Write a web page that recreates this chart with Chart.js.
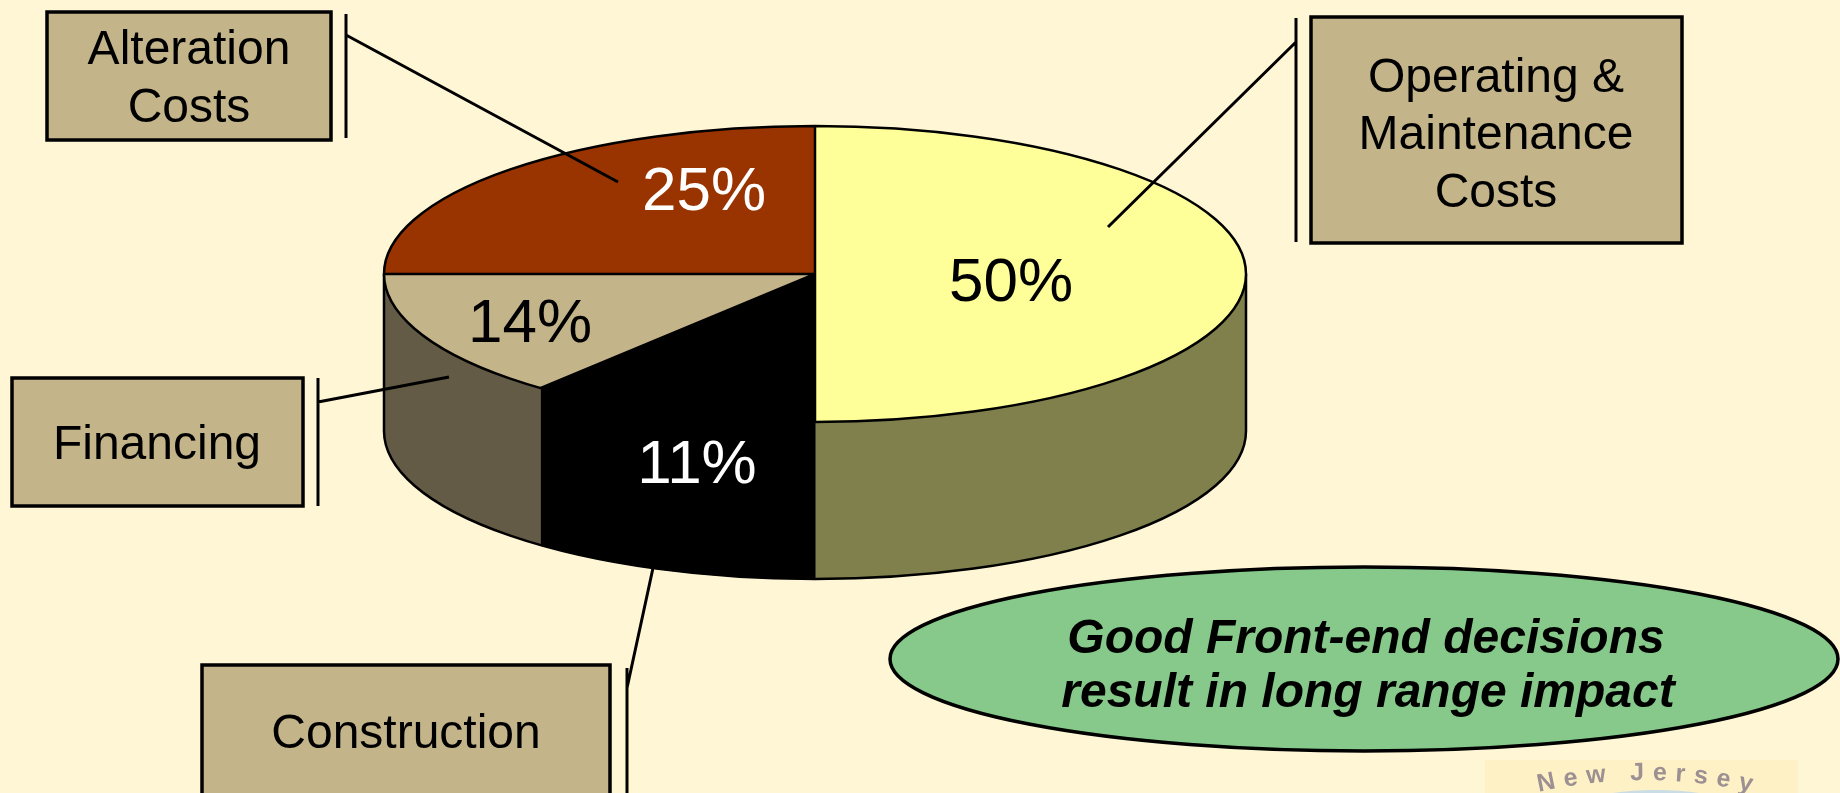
<!DOCTYPE html>
<html>
<head>
<meta charset="utf-8">
<script src="https://cdn.jsdelivr.net/npm/chart.js@4.4.1/dist/chart.umd.min.js"></script>
<style>
  html, body { margin: 0; padding: 0; background: #FFF6D5; overflow: hidden; }
  canvas { display: block; }
</style>
</head>
<body>
<canvas id="costChart" width="1840" height="793" style="width:1840px;height:793px"></canvas>
<script>
// data, clockwise from 12 o'clock
const categories = ['Operating & Maintenance Costs', 'Construction', 'Financing', 'Alteration Costs'];
const shares = [50, 11, 14, 25];
const boxLines = [['Operating &', 'Maintenance', 'Costs'], ['Construction'], ['Financing'], ['Alteration', 'Costs']];
const topColors = ['#FFFF99', '#000000', '#C4B48A', '#993300'];
const sideColors = ['#80804D', '#000000', '#635B46', '#7A2900'];
const labelColors = ['#000000', '#FFFFFF', '#000000', '#FFFFFF'];
const message = ['Good Front-end decisions', 'result in long range impact'];

// layout
const FONT = '"Liberation Sans", Arial, sans-serif';
const TILT = 148 / 431;
const DEPTH = 157;
const labelSpots = [[1011, 279], [697, 461], [530, 320], [704, 188]];
const boxes = [
  { x: 1311, y: 17, w: 371, h: 226, cx: 1496, cy: 132, barX: 1296, barY0: 18, barY1: 242, leader: [1296, 42, 1108, 227] },
  { x: 202, y: 665, w: 408, h: 160, cx: 406, cy: 731, barX: 627, barY0: 668, barY1: 793, leader: [627, 688, 653, 568] },
  { x: 12, y: 378, w: 291, h: 128, cx: 157, cy: 442, barX: 318, barY0: 378, barY1: 506, leader: [318, 402, 449, 377] },
  { x: 47, y: 12, w: 284, h: 128, cx: 189, cy: 76, barX: 346, barY0: 14, barY1: 138, leader: [346, 35, 618, 182] }
];

function pieGeometry(chart) {
  const arcs = chart.getDatasetMeta(0).data;
  const p = arcs[0].getProps(['x', 'y', 'outerRadius'], true);
  return { arcs, x: p.x, y: p.y, r: p.outerRadius, ry: p.outerRadius * TILT };
}

const pie3d = {
  id: 'pie3d',
  beforeDatasetsDraw(chart) {
    const ctx = chart.ctx;
    const { arcs, x, y, r, ry } = pieGeometry(chart);
    // front walls
    arcs.forEach((arc, i) => {
      const { startAngle, endAngle } = arc.getProps(['startAngle', 'endAngle'], true);
      const a0 = Math.max(startAngle, 0);
      const a1 = Math.min(endAngle, Math.PI);
      if (a1 <= a0) return;
      ctx.beginPath();
      ctx.ellipse(x, y, r, ry, 0, a0, a1);
      ctx.ellipse(x, y + DEPTH, r, ry, 0, a1, a0, true);
      ctx.closePath();
      ctx.fillStyle = sideColors[i];
      ctx.strokeStyle = sideColors[i];
      ctx.lineWidth = 1;
      ctx.fill();
      ctx.stroke();
    });
    ctx.beginPath();
    ctx.moveTo(x + r, y);
    ctx.lineTo(x + r, y + DEPTH);
    ctx.ellipse(x, y + DEPTH, r, ry, 0, 0, Math.PI);
    ctx.lineTo(x - r, y);
    ctx.lineWidth = 2.5;
    ctx.strokeStyle = '#000';
    ctx.stroke();
    // squash the library's circle into the top face
    ctx.save();
    ctx.translate(0, y);
    ctx.scale(1, TILT);
    ctx.translate(0, -y);
  },
  afterDatasetsDraw(chart) {
    const ctx = chart.ctx;
    ctx.restore();
    const { arcs, x, y, r, ry } = pieGeometry(chart);
    ctx.beginPath();
    ctx.ellipse(x, y, r, ry, 0, 0, Math.PI * 2);
    arcs.forEach(arc => {
      const { startAngle } = arc.getProps(['startAngle'], true);
      ctx.moveTo(x, y);
      ctx.lineTo(x + r * Math.cos(startAngle), y + ry * Math.sin(startAngle));
    });
    ctx.lineWidth = 2.5;
    ctx.strokeStyle = '#000';
    ctx.stroke();

    ctx.font = '62px ' + FONT;
    ctx.textAlign = 'center';
    ctx.textBaseline = 'alphabetic';
    shares.forEach((v, i) => {
      ctx.fillStyle = labelColors[i];
      ctx.fillText(v + '%', labelSpots[i][0], labelSpots[i][1] + 22);
    });
  }
};

const callouts = {
  id: 'callouts',
  afterDraw(chart) {
    const ctx = chart.ctx;
    ctx.save();
    ctx.lineCap = 'butt';
    boxes.forEach((b, i) => {
      ctx.fillStyle = '#C4B48A';
      ctx.fillRect(b.x, b.y, b.w, b.h);
      ctx.lineWidth = 3.5;
      ctx.strokeStyle = '#000';
      ctx.strokeRect(b.x, b.y, b.w, b.h);

      ctx.lineWidth = 3;
      ctx.beginPath();
      ctx.moveTo(b.barX, b.barY0);
      ctx.lineTo(b.barX, b.barY1);
      ctx.moveTo(b.leader[0], b.leader[1]);
      ctx.lineTo(b.leader[2], b.leader[3]);
      ctx.stroke();

      ctx.fillStyle = '#000';
      ctx.font = '48px ' + FONT;
      ctx.textAlign = 'center';
      ctx.textBaseline = 'alphabetic';
      const lines = boxLines[i];
      const lh = 57.5;
      lines.forEach((t, k) => {
        const cy = b.cy + (k - (lines.length - 1) / 2) * lh;
        ctx.fillText(t, b.cx, cy + 17);
      });
    });

    // message bubble
    ctx.beginPath();
    ctx.ellipse(1364, 659, 474, 92, 0, 0, Math.PI * 2);
    ctx.fillStyle = '#86C98B';
    ctx.fill();
    ctx.lineWidth = 3.5;
    ctx.strokeStyle = '#000';
    ctx.stroke();
    ctx.fillStyle = '#000';
    ctx.font = 'italic bold 48px ' + FONT;
    ctx.fillText(message[0], 1366, 653);
    ctx.fillText(message[1], 1368, 707);

    // faded logo, bottom right
    ctx.fillStyle = '#FFF1C6';
    ctx.fillRect(1485, 760, 313, 40);
    ctx.beginPath();
    ctx.ellipse(1656, 833, 118, 43, 0, 0, Math.PI * 2);
    ctx.fillStyle = '#CADCE6';
    ctx.fill();
    const word = 'New Jersey';
    ctx.font = 'bold 25px ' + FONT;
    ctx.fillStyle = '#9C9092';
    ctx.textBaseline = 'alphabetic';
    const gap = 8.5;
    const widths = [...word].map(c => ctx.measureText(c).width);
    const total = widths.reduce((a, w) => a + w, 0) + gap * (word.length - 1);
    const R = 480, ax = 1645, ay = 780 + R;
    let s = -total / 2;
    [...word].forEach((c, k) => {
      const mid = s + widths[k] / 2;
      const phi = mid / R;
      ctx.save();
      ctx.translate(ax + R * Math.sin(phi), ay - R * Math.cos(phi));
      ctx.rotate(phi);
      ctx.fillText(c, 0, 0);
      ctx.restore();
      s += widths[k] + gap;
    });
    ctx.restore();
  }
};

new Chart(document.getElementById('costChart'), {
  type: 'pie',
  data: {
    labels: categories,
    datasets: [{
      data: shares,
      backgroundColor: topColors,
      borderWidth: 0,
      radius: 431,
      clip: false
    }]
  },
  options: {
    responsive: false,
    animation: false,
    events: [],
    layout: { padding: { left: 0, right: 210, top: 0, bottom: 245 } },
    plugins: {
      legend: { display: false },
      tooltip: { enabled: false }
    }
  },
  plugins: [pie3d, callouts]
});
</script>
</body>
</html>
